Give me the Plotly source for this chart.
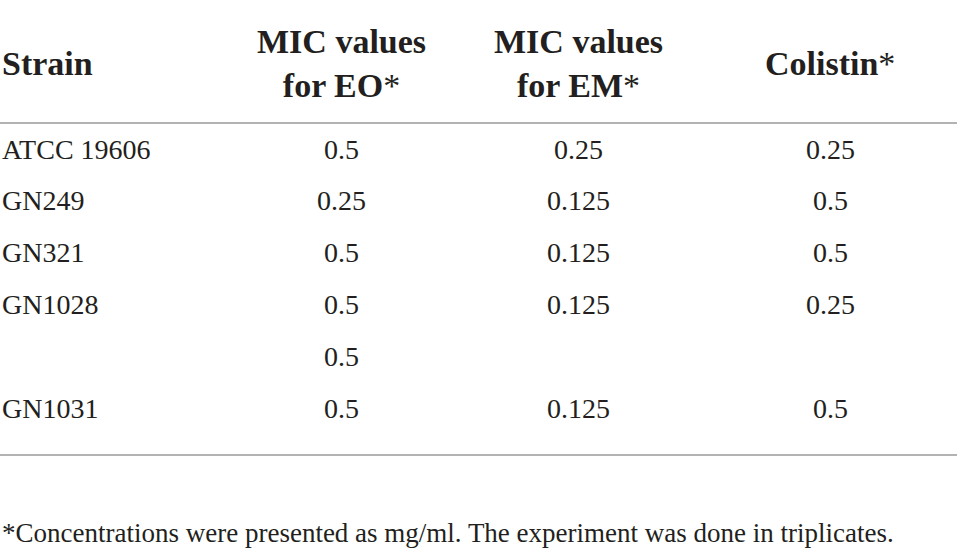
import plotly.graph_objects as go

# table content
headers = ["Strain", "MIC values<br>for EO*", "MIC values<br>for EM*", "Colistin*"]
strains = ["ATCC 19606", "GN249", "GN321", "GN1028", "", "GN1031"]
mic_eo = ["0.5", "0.25", "0.5", "0.5", "0.5", "0.5"]
mic_em = ["0.25", "0.125", "0.125", "0.125", "", "0.125"]
colistin = ["0.25", "0.5", "0.5", "0.25", "", "0.5"]
footnote = "*Concentrations were presented as mg/ml. The experiment was done in triplicates."

W, H = 957, 559
ink = "#231f20"
rule = "#9a9a9a"
serif = "Liberation Serif"

# column placement (x in pixels), row index is the y unit
col_x = [0, 341, 578, 830]
row0_px, row_step = 149, 51.8
y_top = -row0_px / row_step
y_bot = (H - row0_px) / row_step

def row_y(px):
    return (px - row0_px) / row_step

fig = go.Figure()
fig.add_trace(go.Scatter(x=[0], y=[0], mode="markers", marker=dict(opacity=0), hoverinfo="skip"))

# header: bold text, asterisk kept in regular weight like the source
for i, h in enumerate(headers):
    lines = []
    for part in h.split("<br>"):
        if part.endswith("*"):
            lines.append("<b>%s</b>*" % part[:-1])
        else:
            lines.append("<b>%s</b>" % part)
    fig.add_annotation(
        x=col_x[i], y=row_y(63), text="<br>".join(lines),
        xanchor="left" if i == 0 else "center", yanchor="middle",
        showarrow=False, align="center",
        font=dict(family=serif, size=34, color=ink),
    )

# body rows
columns = [strains, mic_eo, mic_em, colistin]
for c, vals in enumerate(columns):
    for r, v in enumerate(vals):
        if not v:
            continue
        fig.add_annotation(
            x=col_x[c], y=r, text=v,
            xanchor="left" if c == 0 else "center", yanchor="middle",
            showarrow=False,
            font=dict(family=serif, size=28, color=ink),
        )

# rules
for px in (123, 455):
    fig.add_shape(type="line", xref="paper", x0=0, x1=1, y0=row_y(px), y1=row_y(px),
                  line=dict(color=rule, width=1.5))

fig.add_annotation(
    x=0, y=row_y(533), text=footnote, xanchor="left", yanchor="middle",
    showarrow=False, font=dict(family=serif, size=27, color=ink),
)

fig.update_layout(
    width=W, height=H,
    margin=dict(l=0, r=0, t=0, b=0),
    paper_bgcolor="white", plot_bgcolor="white",
    showlegend=False,
    xaxis=dict(range=[0, W], visible=False, fixedrange=True),
    yaxis=dict(range=[y_bot, y_top], visible=False, fixedrange=True),
)

fig.write_html("out.html", config={"displayModeBar": False},
               post_script="document.body.style.margin='0';")
